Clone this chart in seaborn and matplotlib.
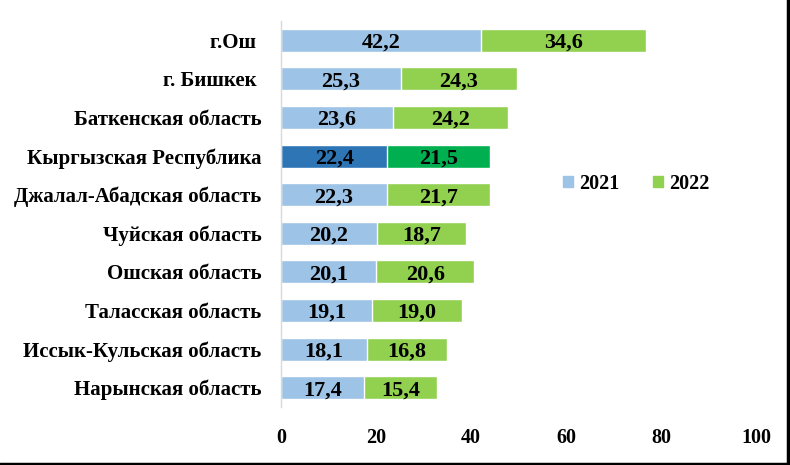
import pandas as pd
import numpy as np
import matplotlib.pyplot as plt
import seaborn as sns
from matplotlib.lines import Line2D
from matplotlib.patches import Patch

# data, top to bottom
regions = ["г.Ош ", "г. Бишкек ", "Баткенская область", "Кыргызская Республика",
           "Джалал-Абадская область", "Чуйская область", "Ошская область",
           "Таласская область", "Иссык-Кульская область", "Нарынская область"]
v2021 = [42.2, 25.3, 23.6, 22.4, 22.3, 20.2, 20.1, 19.1, 18.1, 17.4]
v2022 = [34.6, 24.3, 24.2, 21.5, 21.7, 18.7, 20.6, 19.0, 16.8, 15.4]
highlight = "Кыргызская Республика"

df = pd.DataFrame({"region": regions, "y2021": v2021, "y2022": v2022})
df["total"] = df["y2021"] + df["y2022"]

blue, green = "#9DC3E6", "#92D050"
blue_hl, green_hl = "#2E75B6", "#00B050"
pal_blue = {r: (blue_hl if r == highlight else blue) for r in regions}
pal_green = {r: (green_hl if r == highlight else green) for r in regions}

sns.set_style("white")
plt.rcParams["font.family"] = ["Liberation Serif", "DejaVu Serif"]
plt.rcParams["font.weight"] = "bold"
plt.rcParams["text.color"] = "black"
plt.rcParams["xtick.color"] = "black"
plt.rcParams["ytick.color"] = "black"

fig = plt.figure(figsize=(7.9, 4.65), dpi=100)
ax = fig.add_axes([281 / 790, 1 - 407 / 465, 475 / 790, 386 / 465])

# stacked: draw totals in green, then 2021 in blue on top
sns.barplot(data=df, y="region", x="total", hue="region", palette=pal_green,
            width=0.6, legend=False, ax=ax, saturation=1)
sns.barplot(data=df, y="region", x="y2021", hue="region", palette=pal_blue,
            width=0.6, legend=False, ax=ax, saturation=1)

for i, (a, b) in enumerate(zip(v2021, v2022)):
    ax.text(a / 2, i, f"{a:.1f}".replace(".", ","), ha="center", va="center_baseline",
            fontsize=16, fontweight="bold", color="black")
    ax.text(a + b / 2, i, f"{b:.1f}".replace(".", ","), ha="center", va="center_baseline",
            fontsize=16, fontweight="bold", color="black")

ax.set_xlim(0, 100)
ax.set_ylim(len(regions) - 0.5, -0.5)
ax.set_xticks(np.arange(0, 101, 20))
ax.set_xlabel("")
ax.set_ylabel("")
ax.tick_params(axis="x", length=0, pad=15, labelsize=14.5, labelcolor="black")
ax.tick_params(axis="y", length=0, pad=14, labelsize=15, labelcolor="black")
for lab in ax.get_xticklabels() + ax.get_yticklabels():
    lab.set_fontweight("bold")
for s in ["top", "right", "bottom"]:
    ax.spines[s].set_visible(False)
ax.spines["left"].set_color("#D9D9D9")
ax.spines["left"].set_linewidth(1)

handles = [Patch(color=blue, label="2021"), Patch(color=green, label="2022")]
leg = ax.legend(handles=handles, loc="center", bbox_to_anchor=(0.748, 0.578), ncol=2,
                frameon=False, prop={"size": 14.5, "weight": "bold"},
                handlelength=0.5, handleheight=0.5, columnspacing=1.7, handletextpad=0.3)
for t in leg.get_texts():
    t.set_color("black")

# frame lines on the right and bottom of the picture
fig.add_artist(Line2D([0, 1], [0.003, 0.003], color="black", lw=2.5, transform=fig.transFigure))
fig.add_artist(Line2D([0.997, 0.997], [0, 1], color="black", lw=2.5, transform=fig.transFigure))

fig.savefig("out.png", dpi=100)
